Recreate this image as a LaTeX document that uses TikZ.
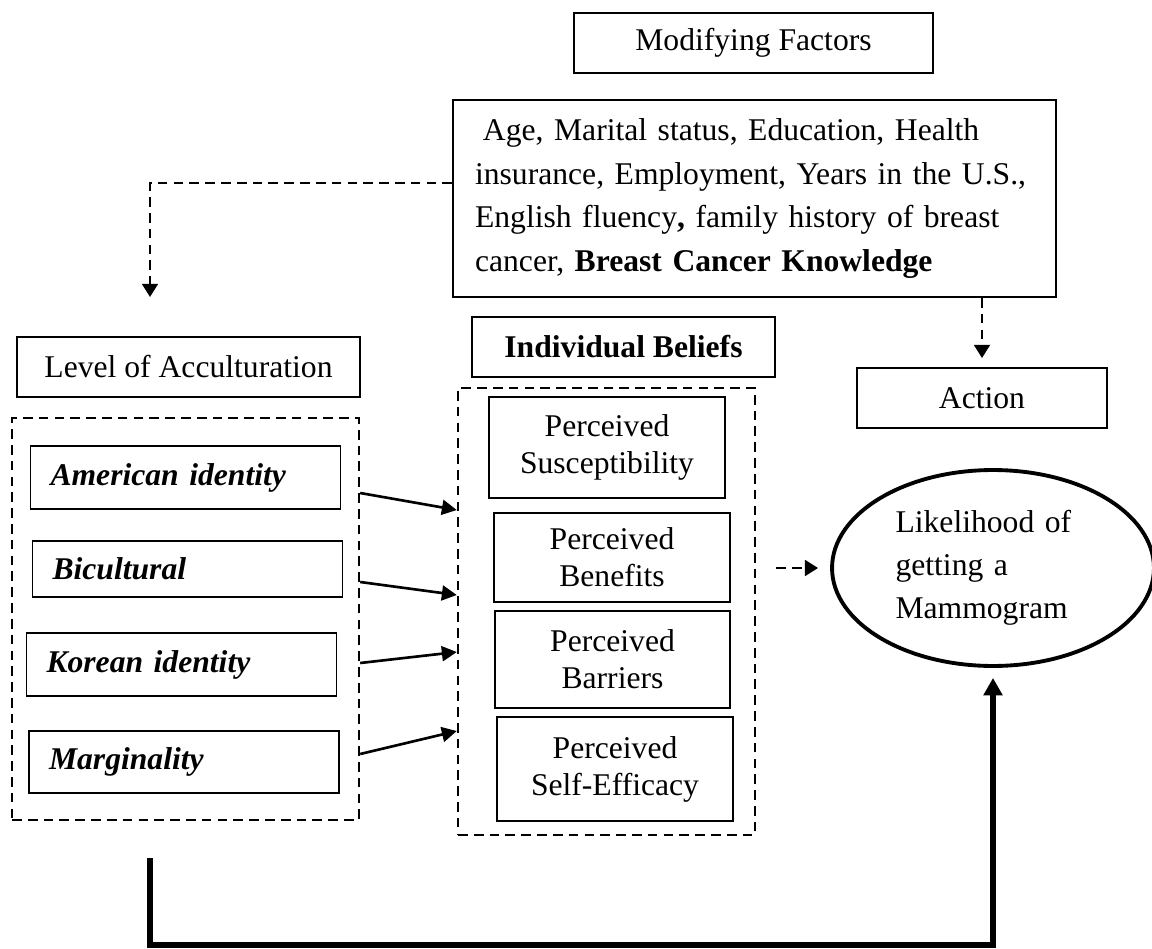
\documentclass[tikz,border=0pt]{standalone}
\usepackage{fontspec}
\setmainfont{Liberation Serif}
\usetikzlibrary{arrows.meta}
\usetikzlibrary{shapes.geometric}
\usetikzlibrary{calc}

\tikzset{
	box/.style={draw, line width=1.1pt, inner sep=0pt, align=center, font=\fontsize{18}{21}\selectfont},
	idbox/.style={box, text width=5.4cm, inner xsep=0.4cm, align=left, font=\fontsize{18}{21}\selectfont\bfseries\itshape},
	group/.style={draw, line width=1.4pt, dash pattern=on 5.5pt off 3.5pt, inner sep=0pt},
	arr/.style={line width=1.5pt, -{Triangle[length=8.5pt,width=8.5pt]}},
	darr/.style={line width=1.4pt, dash pattern=on 5.5pt off 3.5pt, -{Triangle[length=7.5pt,width=9pt]}},
	bigarr/.style={line width=3.4pt, -{Triangle[length=10pt,width=10.5pt]}}
}

\begin{document}
\begin{tikzpicture}[x=0.02cm, y=-0.02cm]
					\useasboundingbox (0,0) rectangle (1152,949);

					% Modifying factors
					\node[box, minimum width=7.18cm, minimum height=1.2cm] (mod) at (753.5,43) {Modifying Factors};
					\node[box, text width=11.18cm, inner xsep=0.44cm, minimum height=3.94cm, align=left, font=\fontsize{18}{25}\selectfont] (fac) at (754.5,198.5)
					{\hspace*{0.25em}Age, Marital status, Education, Health\\insurance, Employment, Years in the U.S.,\\English fluency\textbf{,} family history of breast\\cancer, \textbf{Breast Cancer Knowledge}};

					% Headings
					\node[box, minimum width=6.86cm, minimum height=1.2cm] (lvl) at (188.5,367) {Level of Acculturation};
					\node[box, minimum width=6.06cm, minimum height=1.2cm, font=\fontsize{18}{21}\selectfont\bfseries] (ind) at (623.5,347) {Individual Beliefs};
					\node[box, minimum width=5cm, minimum height=1.2cm] (act) at (982,398) {Action};

					% Dashed groups
					\node[group, minimum width=6.94cm, minimum height=8.04cm] (grpL) at (185.5,619) {};
					\node[group, minimum width=5.94cm, minimum height=8.94cm] (grpM) at (606.5,611.5) {};

					% Acculturation levels
					\node[idbox, minimum height=1.26cm] (amer) at (185.5,477.5) {American identity};
					\node[idbox, minimum height=1.12cm] (bicul) at (187.5,569) {Bicultural};
					\node[idbox, minimum height=1.26cm] (korean) at (181.5,664.5) {Korean identity};
					\node[idbox, minimum height=1.24cm] (marg) at (184,762) {Marginality};

					% Perceived beliefs
					\node[box, minimum width=4.72cm, minimum height=2.02cm] (susc) at (607,447.5) {Perceived\\Susceptibility};
					\node[box, minimum width=4.72cm, minimum height=1.78cm] (bene) at (612,557.5) {Perceived\\Benefits};
					\node[box, minimum width=4.7cm, minimum height=1.94cm] (barr) at (612.5,659.5) {Perceived\\Barriers};
					\node[box, minimum width=4.72cm, minimum height=2.08cm] (selfe) at (615,769) {Perceived\\Self-Efficacy};

					% Outcome
					\node[draw, ellipse, line width=2.2pt, minimum width=6.44cm, minimum height=3.92cm, inner sep=0pt, text width=3.9cm, align=left, font=\fontsize{18}{24.5}\selectfont] (ell) at (993,568)
					{Likelihood of\\getting a\\Mammogram};

					% Connectors
					\coordinate (turn) at (150,183);
					\coordinate (tip) at (150,297);
					\draw[darr] (fac.west |- turn) -- (turn) -- (tip);
					\draw[darr, shorten >=0.18cm] (act |- fac.south) -- (act.north);
					\draw[darr, shorten <=0.4cm, shorten >=0.24cm] (grpM.east |- ell) -- (ell.west);

					\foreach \ys/\ye in {493/510, 582/595, 663/652, 754/731}
						\draw[arr] (grpL.east |- 0,\ys) -- (grpM.west |- 0,\ye);

					\coordinate (base) at (150,945);
					\draw[bigarr, shorten >=0.2cm] ($(grpL.south -| base)+(0,37)$) -- (base) -- (base -| ell.south) -- (ell.south);
\end{tikzpicture}
\end{document}
